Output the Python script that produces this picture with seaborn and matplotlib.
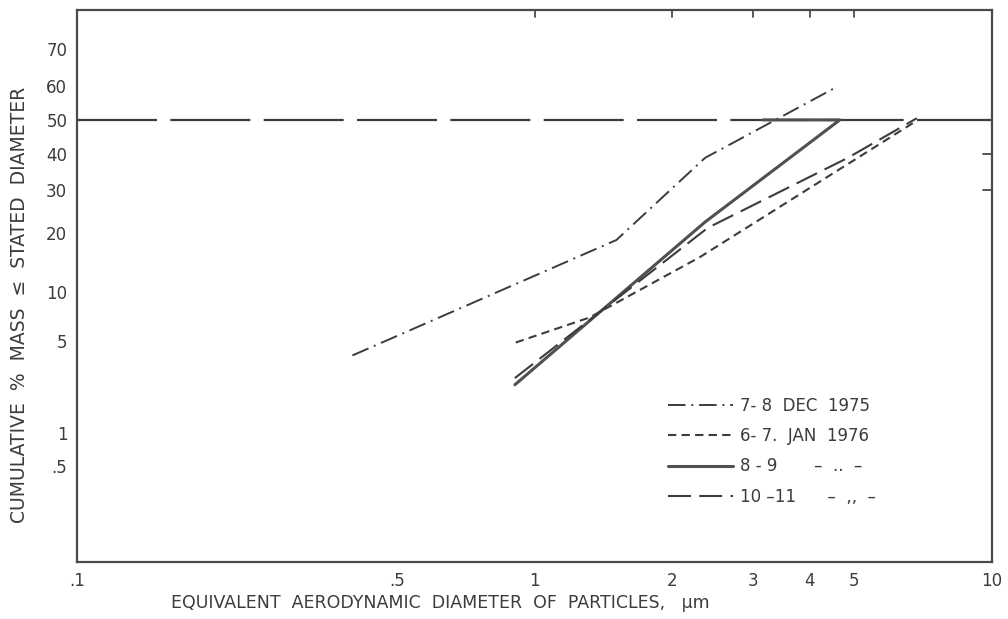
import numpy as np
import pandas as pd
import matplotlib
matplotlib.use("Agg")
import matplotlib.pyplot as plt
import seaborn as sns
from statistics import NormalDist

# readings (diameter in um, cumulative % mass)
dec_d = [0.40, 1.51, 2.36, 4.58]
dec_p = [4.0, 18.6, 38.9, 59.7]

jan67_d = [0.91, 1.32, 2.30, 6.89]
jan67_p = [4.9, 7.1, 15.4, 50.0]

jan89_d = [0.906, 2.36, 4.65, 3.16]
jan89_p = [2.45, 22.4, 50.0, 50.0]

jan1011_d = [0.906, 2.39, 4.84, 6.85]
jan1011_p = [2.75, 21.1, 38.9, 50.5]

labels = ["7- 8  DEC  1975", "6- 7.  JAN  1976", "8 - 9       \u2013  ..  \u2013", "10 \u201311      \u2013  ,,  \u2013"]

x_ticks = [0.1, 0.5, 1, 2, 3, 4, 5, 10]
x_ticklabels = [".1", ".5", "1", "2", "3", "4", "5", "10"]
top_ticks = [1, 2, 3, 4, 5]
y_ticks = [0.5, 1, 5, 10, 20, 30, 40, 50, 60, 70]
y_ticklabels = [".5", "1", "5", "10", "20", "30", "40", "50", "60", "70"]

nd = NormalDist()
_ppf = np.vectorize(lambda v: nd.inv_cdf(v), otypes=[float])
_cdf = np.vectorize(lambda v: nd.cdf(v), otypes=[float])


def fwd(p):
    p = np.clip(np.asarray(p, dtype=float), 1e-7, 100 - 1e-7)
    return _ppf(p / 100.0)


def inv(z):
    z = np.clip(np.asarray(z, dtype=float), -8, 8)
    return _cdf(z) * 100.0


sns.set_style("white")
plt.rcParams["font.family"] = ["DejaVu Sans"]
ink = "#3c3c3c"

fig = plt.figure(figsize=(10.08, 6.19), dpi=100)
ax = fig.add_axes([77 / 1008, 57 / 619, 915 / 1008, 552 / 619])

sns.lineplot(x=dec_d, y=dec_p, ax=ax, sort=False, color=ink, lw=1.4,
             linestyle=(0, (9, 3, 1, 3)), label=labels[0])
sns.lineplot(x=jan67_d, y=jan67_p, ax=ax, sort=False, color=ink, lw=1.5,
             linestyle=(0, (4, 2.5)), label=labels[1])
sns.lineplot(x=jan89_d, y=jan89_p, ax=ax, sort=False, color="#505050", lw=2.2,
             linestyle="-", label=labels[2])
sns.lineplot(x=jan1011_d, y=jan1011_p, ax=ax, sort=False, color=ink, lw=1.5,
             linestyle=(0, (11, 4)), label=labels[3])

ax.axhline(50, color=ink, lw=1.6, linestyle=(0, (36, 6)), zorder=1)

ax.set_xscale("log")
ax.set_yscale("function", functions=(fwd, inv))
ax.set_xlim(0.1, 10)
ax.set_ylim(0.0508, 79.3)

ax.set_xticks(x_ticks)
ax.set_xticklabels(x_ticklabels)
ax.xaxis.set_minor_locator(matplotlib.ticker.NullLocator())
ax.set_yticks(y_ticks)
ax.set_yticklabels(y_ticklabels)
ax.yaxis.set_minor_locator(matplotlib.ticker.NullLocator())

ax.tick_params(axis="x", direction="in", length=6, width=1.2, colors=ink,
               labelsize=12, pad=7)
ax.tick_params(axis="y", direction="out", length=5, width=1.2, colors=ink,
               labelsize=12, pad=2)

for s in ax.spines.values():
    s.set_color("#4a4a4a")
    s.set_linewidth(1.6)

# inward ticks on top and right edges
trans_top = ax.get_xaxis_transform()
for xv in top_ticks:
    ax.plot([xv, xv], [1.0, 0.988], color=ink, lw=1.2, transform=trans_top, clip_on=False)
trans_right = ax.get_yaxis_transform()
for yv in [30, 40]:
    ax.plot([1.0, 0.99], [yv, yv], color=ink, lw=1.2, transform=trans_right, clip_on=False)

ax.set_xlabel("EQUIVALENT  AERODYNAMIC  DIAMETER  OF  PARTICLES,   \u03bcm",
              fontsize=12.5, color=ink)
ax.xaxis.set_label_coords((440 - 77) / 915, -0.058)
ax.set_ylabel("CUMULATIVE  %  MASS  \u2264  STATED  DIAMETER", fontsize=13.5, color=ink)
ax.yaxis.set_label_coords(-0.053, 0.466)

leg = ax.legend(loc="upper left", bbox_to_anchor=(0.63, 0.326), frameon=False,
                fontsize=12, handlelength=3.9, handletextpad=0.4,
                labelspacing=0.73, labelcolor=ink)

fig.savefig("out.png", dpi=100, facecolor="white")
